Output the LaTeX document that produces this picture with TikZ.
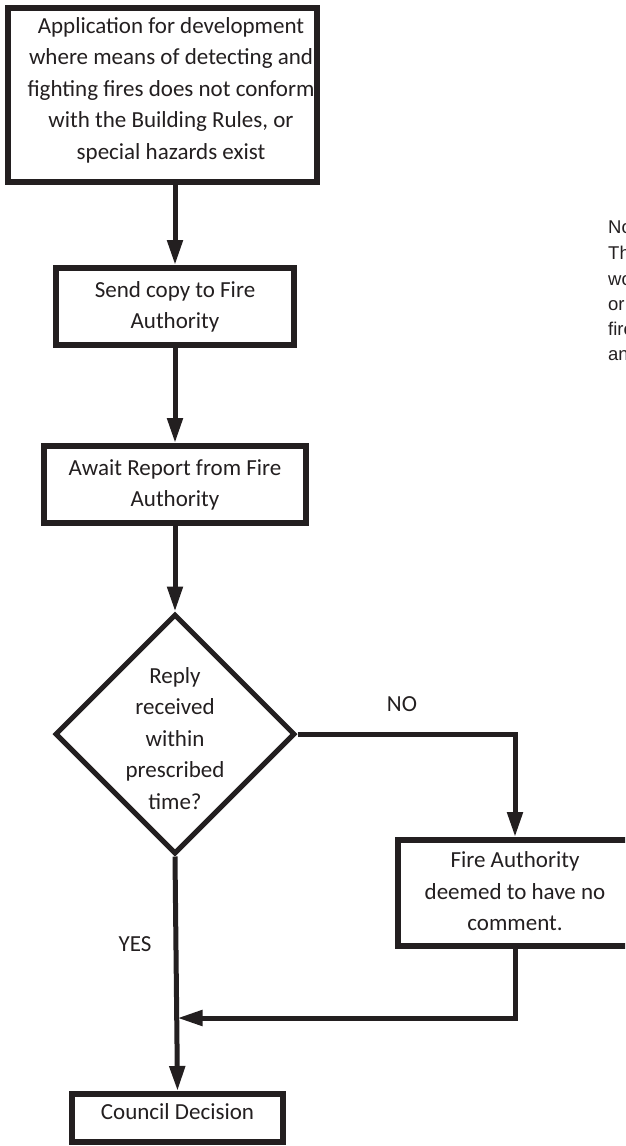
\documentclass[tikz,border=0pt]{standalone}
\usepackage{fontspec}
\setmainfont{Carlito}
\newfontfamily\notefont{Liberation Sans}
\usetikzlibrary{arrows.meta,shapes.geometric}
\definecolor{ink}{HTML}{231F20}
\newcommand\stack[1]{\begin{tabular}{@{}c@{}}#1\end{tabular}}
\begin{document}
\begin{tikzpicture}[x=1pt,y=-1pt,
  every node/.style={text=ink},
  txt/.style={font=\fontsize{23}{31.5}\selectfont,inner sep=0pt},
  box/.style={txt,draw=ink,line width=6pt,rectangle,fill=white},
  decision/.style={draw=ink,line width=5pt,diamond,inner sep=0pt,fill=white},
  flow/.style={draw=ink,line width=5pt},
  arr/.style={flow,-{Triangle[length=25pt,width=15pt]}},
  note/.style={font=\notefont\fontsize{18.5}{25}\selectfont,inner sep=0pt,anchor=base west}]
\useasboundingbox (0,0) rectangle (625,1146);
\clip (0,0) rectangle (625,1146);

% process boxes
\node[box,minimum width=309pt,minimum height=174pt] (app) at (162.5,95) {};
\node[txt] (apptext) at (171,90) {\stack{Application for development\\where means of detecting and\\fighting fires does not conform\\with the Building Rules, or\\special hazards exist}};
\node[box,minimum width=238pt,minimum height=77pt] (send) at (175,306.5) {\stack{Send copy to Fire\\Authority}};
\node[box,minimum width=262pt,minimum height=77pt] (await) at (175,484.5) {\stack{Await Report from Fire\\Authority}};

% decision
\node[decision,minimum width=240pt,minimum height=240pt] (reply) at (175,734) {};
\node[txt] (replytext) at (175,740) {\stack{Reply\\received\\within\\prescribed\\time?}};

\node[box,minimum width=234pt,minimum height=106pt] (fire) at (515,893) {\stack{Fire Authority\\deemed to have no\\comment.}};
\node[box,minimum width=211pt,minimum height=48pt] (council) at (177.5,1118) {};
\node[txt] (counciltext) at (177.5,1112) {Council Decision};

% branch labels
\node[txt] (nolabel) at (402,704) {NO};
\node[txt] (yeslabel) at (135,944) {YES};

% side note, running off the right edge
\node[note] (n1) at (608,233) {Note:};
\node[note] (n2) at (608,259) {The};
\node[note] (n3) at (608,285) {would};
\node[note] (n4) at (608,310) {or};
\node[note] (n5) at (608,335) {fire};
\node[note] (n6) at (608,360) {and};

% connectors
\coordinate (merge) at (177.5,1018);
\draw[arr] (app.south -| send.north) -- (send.north);
\draw[arr] (send.south) -- (await.north);
\draw[arr] (await.south) -- (reply.north);
\draw[arr] (reply.east) -| (fire.north);
\draw[arr] (fire.south) |- (merge);
\draw[arr] (reply.south) -- (council.north);
\end{tikzpicture}
\end{document}
